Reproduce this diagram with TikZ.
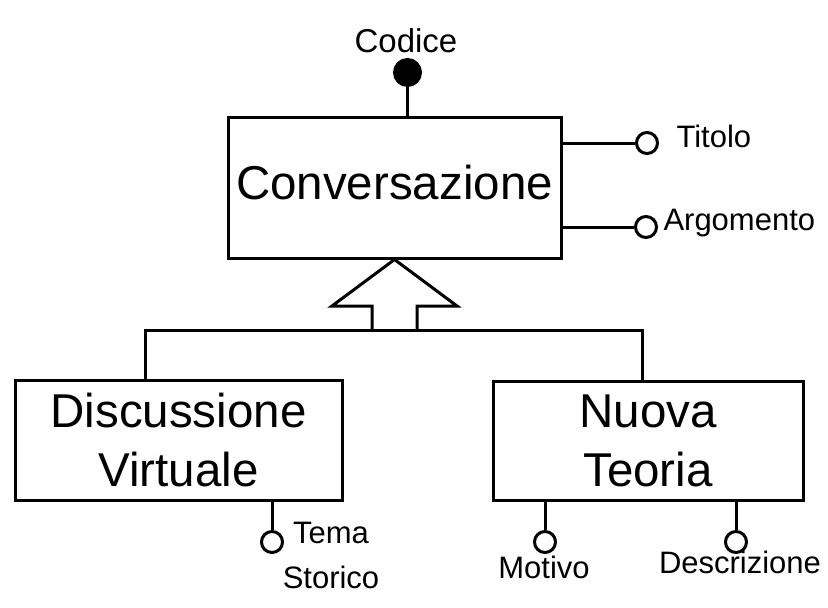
\documentclass[tikz,border=0pt]{standalone}
\usepackage{fontspec}
\setmainfont{Liberation Sans}
\begin{document}
\begin{tikzpicture}[x=1pt,y=-1pt,line width=3pt,line join=miter,
    entity/.style={draw,rectangle,align=center,inner sep=0pt,
      font=\fontsize{47.5}{59}\selectfont},
    attr/.style={draw,circle,fill=white,minimum size=21pt,inner sep=0pt},
    keyattr/.style={attr,fill=black,minimum size=26pt},
    attrname/.style={inner sep=0pt,font=\fontsize{31}{45}\selectfont}]
  \useasboundingbox (0,0) rectangle (828,608);
  % entities
  \node[entity,minimum width=333pt,minimum height=141pt,
    text height=34pt,text depth=11pt] (conv) at (394.5,187.5) {Conversazione};
  \node[entity,minimum width=327pt,minimum height=120pt] (disc) at (178.5,440)
    {Discussione\\Virtuale};
  \node[entity,minimum width=310pt,minimum height=119pt] (nuova) at (648,440.5)
    {Nuova\\Teoria};
  % generalisation
  \coordinate (jl) at (145,330);
  \coordinate (jr) at (642,330);
  \draw (disc.north -| jl) -- (jl) -- (jr) -- (nuova.north -| jr);
  \draw (372,330) -- (372,306) -- (332,306) -- (conv.south)
    -- (457,306) -- (417,306) -- (417,330);
  % attributes
  \node[keyattr] (cod) at (407.5,72.5) {};
  \node[attr] (tit) at (647,143) {};
  \node[attr] (arg) at (646,227) {};
  \node[attr] (tema) at (272,542) {};
  \node[attr] (mot) at (545,542) {};
  \node[attr] (desc) at (736,542) {};
  \draw (conv.north -| cod) -- (cod);
  \draw (conv.east |- tit) -- (tit);
  \draw (conv.east |- arg) -- (arg);
  \draw (disc.south -| tema) -- (tema);
  \draw (nuova.south -| mot) -- (mot);
  \draw (nuova.south -| desc) -- (desc);
  \node[attrname,anchor=base,font=\fontsize{33}{38}\selectfont] (codl) at (406,52) {Codice};
  \node[attrname,anchor=base west] (titl) at (675,147) {Titolo};
  \node[attrname,anchor=base west] (argl) at (662,230) {Argomento};
  \node[attrname,align=center] (temal) at (331,555) {Tema\\Storico};
  \node[attrname,anchor=base] (motl) at (544,578) {Motivo};
  \node[attrname,anchor=base] (descl) at (740,573) {Descrizione};
\end{tikzpicture}
\end{document}
